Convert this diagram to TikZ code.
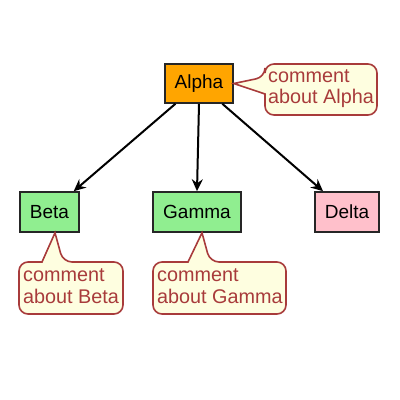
\documentclass[tikz,border=0pt]{standalone}
\usepackage{fontspec}
\setmainfont{Liberation Sans}
\usetikzlibrary{arrows.meta,calc}
\definecolor{alphaor}{HTML}{FFA500}
\definecolor{lgreen}{HTML}{90EE90}
\definecolor{lpink}{HTML}{FFC0CB}
\definecolor{notefill}{HTML}{FEFEE0}
\definecolor{notered}{HTML}{A83B3B}
\tikzset{
  box/.style={draw=black!85, line width=1.6pt, rectangle, inner sep=0pt, font=\fontsize{19}{22}\selectfont},
  note/.style={draw=notered, fill=notefill, line width=1.6pt},
  notetext/.style={text=notered, align=left, anchor=north west, inner sep=0pt, font=\fontsize{19.8}{21.5}\selectfont},
  conn/.style={draw=black, line width=2pt, -{Stealth[length=12pt,width=11pt,inset=4pt]}}
}
\begin{document}
\begin{tikzpicture}[x=1pt,y=-1pt]
\useasboundingbox (0,0) rectangle (400,400);
\node[box, fill=alphaor, minimum width=68pt, minimum height=39pt] (Alpha) at (199,83.5) {Alpha};
\node[box, fill=lgreen, minimum width=59pt, minimum height=40pt] (Beta) at (49.5,212) {Beta};
\node[box, fill=lgreen, minimum width=88pt, minimum height=40pt] (Gamma) at (197,212) {Gamma};
\node[box, fill=lpink, minimum width=64pt, minimum height=40pt] (Delta) at (347,212) {Delta};
\draw[conn] (Alpha) -- (Beta);
\draw[conn] (Alpha.south) -- (Gamma.north);
\draw[conn] (Alpha) -- (Delta);
% comment callouts
\coordinate (tipA) at (Alpha.east);
\draw[note] (320,64) [rounded corners=9pt] -- (265,64) -- (265,77) [sharp corners] -- (tipA) -- (265,94) [rounded corners=9pt] -- (265,115) -- (377,115) -- (377,64) -- cycle;
\node[notetext] (cA) at (268,69) {comment\\about Alpha};
\coordinate (tipB) at ($(Beta.south)+(5.5,0)$);
\draw[note] (90,262) [rounded corners=9pt] -- (63,262) [sharp corners] -- (tipB) -- (42,262) [rounded corners=9pt] -- (19,262) -- (19,314) -- (123,314) -- (123,262) -- cycle;
\node[notetext] (cB) at (23,268.5) {comment\\about Beta};
\coordinate (tipG) at ($(Gamma.south)+(5,0)$);
\draw[note] (250,262) [rounded corners=9pt] -- (210,262) [sharp corners] -- (tipG) -- (188,262) [rounded corners=9pt] -- (153,262) -- (153,314) -- (286,314) -- (286,262) -- cycle;
\node[notetext] (cG) at (157,268.5) {comment\\about Gamma};
\end{tikzpicture}
\end{document}
